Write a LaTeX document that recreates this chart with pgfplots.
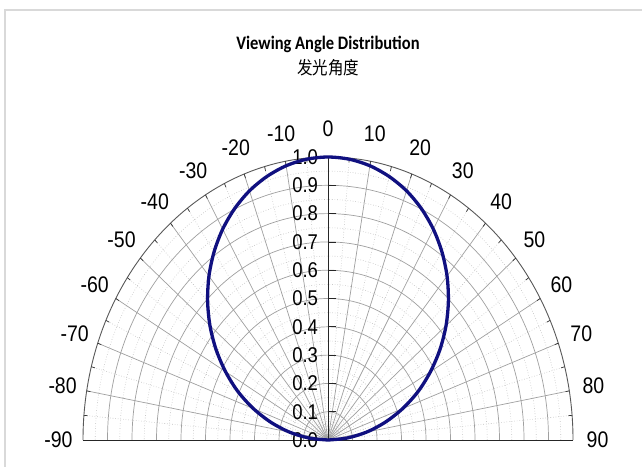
\documentclass[border=0pt]{standalone}
\usepackage{fontspec}
\setmainfont{Liberation Sans}
\newfontfamily\calfont{Carlito}
\newfontfamily\cjk{Noto Sans CJK SC}
\usepackage{pgfplots}
\usepackage{pgfplotstable}
\pgfplotsset{compat=1.18}
\newcommand\st[1]{\scalebox{1}[1.155]{#1}}
\definecolor{curve}{RGB}{16,16,128}
\definecolor{gridsolid}{RGB}{160,160,160}
\definecolor{griddot}{RGB}{190,190,190}
\definecolor{frame}{RGB}{217,217,217}

\pgfplotstableread{
deg r
-90 0.000
-85 0.077
-80 0.159
-75 0.241
-70 0.324
-65 0.406
-60 0.483
-55 0.558
-50 0.629
-45 0.695
-40 0.756
-35 0.811
-30 0.860
-25 0.902
-20 0.937
-15 0.964
-10 0.984
-5 0.996
0 1.000
5 0.996
10 0.984
15 0.964
20 0.937
25 0.902
30 0.860
35 0.811
40 0.756
45 0.695
50 0.629
55 0.558
60 0.483
65 0.406
70 0.324
75 0.241
80 0.159
85 0.077
90 0.000
}\datatable

\begin{document}
\begin{tikzpicture}[x=1pt,y=1pt]
\useasboundingbox (0,0) rectangle (642,466);
\fill[white] (0,0) rectangle (642,466);
\draw[frame, line width=1.5pt] (5,-10) -- (5,456) -- (660,456);
\node[anchor=base] at (328,416) {\calfont\bfseries\fontsize{16.5}{16.5}\selectfont\st{Viewing Angle Distribution}};
\node[anchor=base] at (328,391) {\cjk\fontsize{15.5}{15.5}\selectfont\st{发光角度}};
\begin{scope}[shift={(328,26)}, x=245pt, y=283pt]
  % dotted grid
  \foreach \r in {0.05,0.15,0.25,0.35,0.45,0.55,0.65,0.75,0.85,0.95}
    \draw[griddot, dotted, line width=0.6pt] (\r,0) arc[start angle=0, end angle=180, x radius=\r, y radius=\r];
  \foreach \a in {5,15,...,175}
    \draw[griddot, dotted, line width=0.6pt] (0,0) -- (\a:1);
  % solid grid
  \foreach \r in {0.1,0.2,0.3,0.4,0.5,0.6,0.7,0.8,0.9}
    \draw[gridsolid, line width=0.7pt] (\r,0) arc[start angle=0, end angle=180, x radius=\r, y radius=\r];
  \foreach \a in {10,20,...,170}
    \draw[gridsolid, line width=0.7pt] (0,0) -- (\a:1);
  % outer arc
  \draw[black!65, line width=0.9pt] (1,0) arc[start angle=0, end angle=180, x radius=1, y radius=1];
  \foreach \a in {5,10,...,175}
    \draw[black!80, line width=0.7pt] (\a:0.985) -- (\a:1);
  % axes
  \draw[black!85, line width=0.9pt] (-1,0) -- (1,0);
  \draw[black!85, line width=0.9pt] (0,0) -- (0,1);
  \foreach \r in {0.1,0.2,...,1.0}
    \draw[black!85, line width=0.8pt] (0,\r) -- (0.033,\r);
  % radial labels
  \foreach \r/\t in {0/0.0,0.1/0.1,0.2/0.2,0.3/0.3,0.4/0.4,0.5/0.5,0.6/0.6,0.7/0.7,0.8/0.8,0.9/0.9,1.0/1.0}
    \node[anchor=east, inner sep=0pt, text=black] at (-0.04,\r) {\fontsize{18.5}{18.5}\selectfont\st{\t}};
  % angle labels
  \foreach \t in {-90,-80,...,90}
    \node[inner sep=0pt, text=black] at ({90-\t}:1.1) {\fontsize{19.5}{19.5}\selectfont\st{\t}};
\end{scope}
\begin{axis}[at={(83pt,26pt)}, anchor=south west, width=490pt, height=283pt,
  scale only axis, enlargelimits=false,
  xmin=-1, xmax=1, ymin=0, ymax=1, hide axis, clip=false]
\addplot[curve, line width=3.3pt, smooth] table[x expr={\thisrow{r}*sin(\thisrow{deg})}, y expr={\thisrow{r}*cos(\thisrow{deg})}] {\datatable};
\end{axis}
\end{tikzpicture}
\end{document}
